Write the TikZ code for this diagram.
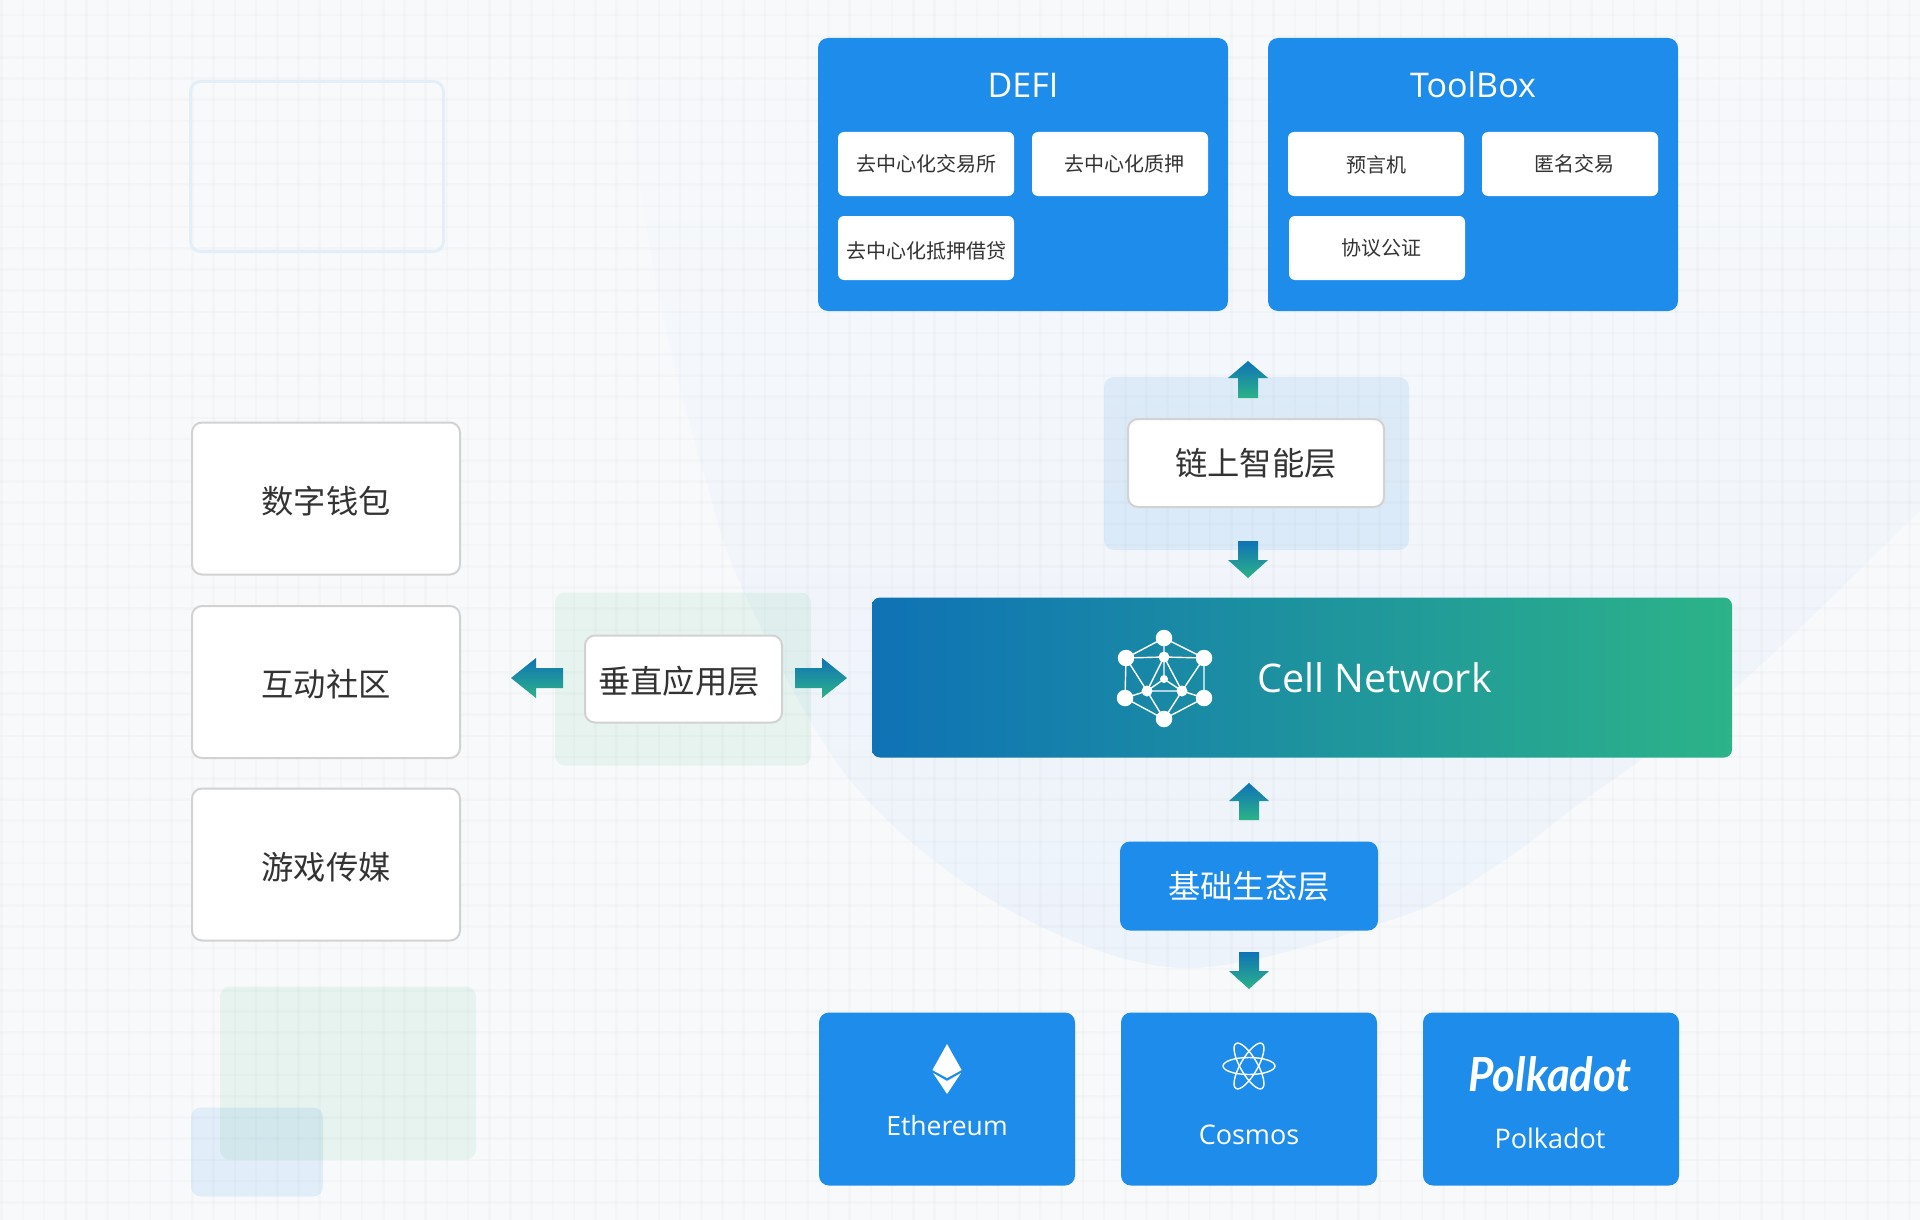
\documentclass[tikz,border=0pt]{standalone}
\usepackage{fontspec}
\setmainfont{Open Sans}
\newfontfamily\cjk{Noto Sans CJK SC}
\newfontfamily\logofont{Lato}
\definecolor{bgc}{HTML}{F8F9FB}
\definecolor{blobtop}{HTML}{F8F9FB}
\definecolor{blobmid}{HTML}{F1F5F9}
\definecolor{blobbot}{HTML}{EDF3FB}
\definecolor{boxblue}{HTML}{1E8CEB}
\definecolor{gblue}{HTML}{0F72B5}
\definecolor{ggreen}{HTML}{2CB388}
\definecolor{panelblue}{HTML}{288DE2}
\definecolor{panelgreen}{HTML}{39B973}
\definecolor{edgegray}{HTML}{D2D2D2}
\definecolor{ink}{HTML}{333333}
\definecolor{outlineblue}{HTML}{E3EEF8}
\newcommand{\fs}[1]{\fontsize{#1pt}{#1pt}\selectfont}
\tikzset{
  x=1pt,y=-1pt,
  bluebox/.style={rectangle,fill=boxblue,rounded corners=10pt,inner sep=0pt},
  innerbox/.style={rectangle,fill=white,rounded corners=6pt,inner sep=0pt},
  whitebox/.style={rectangle,fill=white,draw=edgegray,line width=2pt,rounded corners=10pt,inner sep=0pt},
  bluepanel/.style={rectangle,fill=panelblue,fill opacity=.11,rounded corners=10pt,inner sep=0pt},
  greenpanel/.style={rectangle,fill=panelgreen,fill opacity=.09,rounded corners=10pt,inner sep=0pt},
  label14/.style={text=ink,font=\cjk\fs{20},inner sep=0pt},
  label32/.style={text=ink,font=\cjk\fs{32.3},inner sep=0pt},
  whitelabel/.style={text=white,font=\fs{26.5},inner sep=0pt},
  title/.style={text=white,font=\fs{34},inner sep=0pt},
  gridline/.style={black,opacity=.017,line width=2.6pt},
  blockarrow/.style={top color=gblue,bottom color=ggreen,draw=none},
  netedge/.style={draw=white,line width=1.4pt},
  netbig/.style={circle,fill=white,minimum size=16.5pt,inner sep=0pt},
  netmid/.style={circle,fill=white,minimum size=11pt,inner sep=0pt},
  netsmall/.style={circle,fill=white,minimum size=8pt,inner sep=0pt},
}
% block arrows: centre x, then y of the tail, head base and tip
\newcommand{\vertarrow}[4]{\shade[blockarrow] (#1-10,#2) -- (#1-10,#3) -- (#1-20,#3) -- (#1,#4) -- (#1+20,#3) -- (#1+10,#3) -- (#1+10,#2) -- cycle;}
\newcommand{\horzarrow}[4]{\shade[blockarrow] (#2,#1-10) -- (#3,#1-10) -- (#3,#1-20) -- (#4,#1) -- (#3,#1+20) -- (#3,#1+10) -- (#2,#1+10) -- cycle;}
\begin{document}
\begin{tikzpicture}
\useasboundingbox (0,0) rectangle (1920,1220);
\clip (0,0) rectangle (1920,1220);
\fill[bgc] (0,0) rectangle (1920,1220);
% large background shape
\shade[top color=blobtop,middle color=blobmid,bottom color=blobbot]
  plot[smooth,tension=.55] coordinates {(628,100) (650,247) (660,303) (680,387) (703,470) (743,590) (850,780) (1000,905) (1183,968) (1400,917) (1500,863) (1580,803) (1733,690) (1920,510)}
  -- (1920,0) -- (628,0) -- cycle;
% grid
\foreach \k in {0,...,90} {\draw[gridline] ({1.7+21.2*\k},0) -- ({1.7+21.2*\k},1220);}
\foreach \k in {0,...,57} {\draw[gridline] (0,{15+21.2*\k}) -- (1920,{15+21.2*\k});}

% decorative shapes
\node[rectangle,draw=outlineblue,line width=3pt,rounded corners=10pt,minimum width=253pt,minimum height=170pt] (deco) at (317,166.5) {};
\node[greenpanel,minimum width=256pt,minimum height=173pt] (decogreen) at (348,1073) {};
\node[bluepanel,minimum width=132pt,minimum height=89pt] (decoblue) at (257,1152) {};

% panels
\node[bluepanel,minimum width=305pt,minimum height=173pt] (smartpanel) at (1256.5,463.5) {};
\node[greenpanel,minimum width=256pt,minimum height=173pt] (vertpanel) at (683,679) {};

% DEFI
\node[bluebox,minimum width=410pt,minimum height=273pt] (defi) at (1023,174.5) {};
\node[title] (defit) at (1023,85) {DEFI};
\node[innerbox,minimum width=176pt,minimum height=64pt] (d1) at (926,164) {};
\node[innerbox,minimum width=176pt,minimum height=64pt] (d2) at (1120,164) {};
\node[innerbox,minimum width=176pt,minimum height=64pt] (d3) at (926,248) {};
\node[label14] (d1t) at (926,164) {去中心化交易所};
\node[label14] (d2t) at (1124,164) {去中心化质押};
\node[label14] (d3t) at (926,251) {去中心化抵押借贷};

% ToolBox
\node[bluebox,minimum width=410pt,minimum height=273pt] (tool) at (1473,174.5) {};
\node[title] (toolt) at (1473,84.5) {ToolBox};
\node[innerbox,minimum width=176pt,minimum height=64pt] (t1) at (1376,164) {};
\node[innerbox,minimum width=176pt,minimum height=64pt] (t2) at (1570,164) {};
\node[innerbox,minimum width=176pt,minimum height=64pt] (t3) at (1377,248) {};
\node[label14] (t1t) at (1376,165) {预言机};
\node[label14] (t2t) at (1574,164) {匿名交易};
\node[label14] (t3t) at (1381,248) {协议公证};

% layers
\node[whitebox,minimum width=256pt,minimum height=88pt] (smart) at (1256,463) {};
\node[label32] (smartt) at (1256,463) {链上智能层};
\node[whitebox,minimum width=197pt,minimum height=87pt] (vert) at (683.5,679) {};
\node[label32] (vertt) at (679,681.5) {垂直应用层};
\node[bluebox,minimum width=258pt,minimum height=89pt] (base) at (1249,886) {};
\node[text=white,font=\cjk\fs{32.3},inner sep=0pt] (baset) at (1249,886.5) {基础生态层};

% left column
\node[whitebox,minimum width=268pt,minimum height=152pt] (wallet) at (326,498.5) {};
\node[label32] (wallett) at (326,501.5) {数字钱包};
\node[whitebox,minimum width=268pt,minimum height=152pt] (community) at (326,682) {};
\node[label32] (communityt) at (326,684) {互动社区};
\node[whitebox,minimum width=268pt,minimum height=152pt] (games) at (326,864.5) {};
\node[label32] (gamest) at (326,867) {游戏传媒};

% Cell Network
\node[rectangle,left color=gblue,right color=ggreen,rounded corners=8pt,minimum width=860pt,minimum height=160pt,inner sep=0pt] (cell) at (1302,677.5) {};
\node[text=white,font=\fs{39.5},inner sep=0pt] (cellt) at (1374.5,678) {Cell Network};
% network icon
\coordinate (nT) at (1164,638); \coordinate (nUL) at (1126,658); \coordinate (nUR) at (1204,658);
\coordinate (nLL) at (1125,698); \coordinate (nLR) at (1204,698); \coordinate (nB) at (1164,719);
\coordinate (iT) at (1164,657); \coordinate (iC) at (1164,679); \coordinate (iL) at (1147,691); \coordinate (iR) at (1182,691);
\draw[netedge] (nT)--(nUL)--(nLL)--(nB)--(nLR)--(nUR)--cycle;
\draw[netedge] (nT)--(iT) (nUL)--(iT)--(nUR) (nUL)--(iL) (nUR)--(iR) (nLL)--(iL) (nLR)--(iR) (nB)--(iL) (nB)--(iR) (iL)--(iR) (iT)--(iL) (iT)--(iR) (iT)--(iC) (iC)--(iL) (iC)--(iR);
\foreach \p in {nT,nUL,nUR,nLL,nLR,nB} {\node[netbig] at (\p) {};}
\foreach \p in {iT,iL,iR} {\node[netmid] at (\p) {};}
\node[netsmall] at (iC) {};

% chain boxes
\node[bluebox,minimum width=256pt,minimum height=173pt] (eth) at (947,1099) {};
\node[bluebox,minimum width=256pt,minimum height=173pt] (cos) at (1249,1099) {};
\node[bluebox,minimum width=256pt,minimum height=173pt] (pol) at (1551,1099) {};
\fill[white] (947,1044) -- (961.6,1070) -- (947,1078) -- (932.4,1070) -- cycle;
\fill[white] (933,1073) -- (947,1081) -- (961,1073) -- (947,1094) -- cycle;
\node[whitelabel] (etht) at (947,1126) {Ethereum};
\foreach \a in {0,60,120} {\draw[white,line width=1.4pt,rotate around={\a:(1249,1066)}] (1249,1066) ellipse [x radius=26,y radius=8.5];}
\node[text=white,font=\fs{27},inner sep=0pt] (cost) at (1249,1135) {Cosmos};
\node[text=white,font=\logofont\bfseries\itshape\fs{47},inner sep=0pt] (pollogo) at (1550,1074) {\scalebox{.93}[1]{Polkadot}};
\node[text=white,font=\fs{27},inner sep=0pt] (polt) at (1550,1138) {Polkadot};

% gradient block arrows
\vertarrow{1248}{398}{378}{361}
\vertarrow{1248}{541}{560}{578}
\vertarrow{1249}{820}{801}{783}
\vertarrow{1249}{952}{971}{989}
\horzarrow{678}{563}{536}{511}
\horzarrow{678}{795}{822}{847}
\end{tikzpicture}
\end{document}
